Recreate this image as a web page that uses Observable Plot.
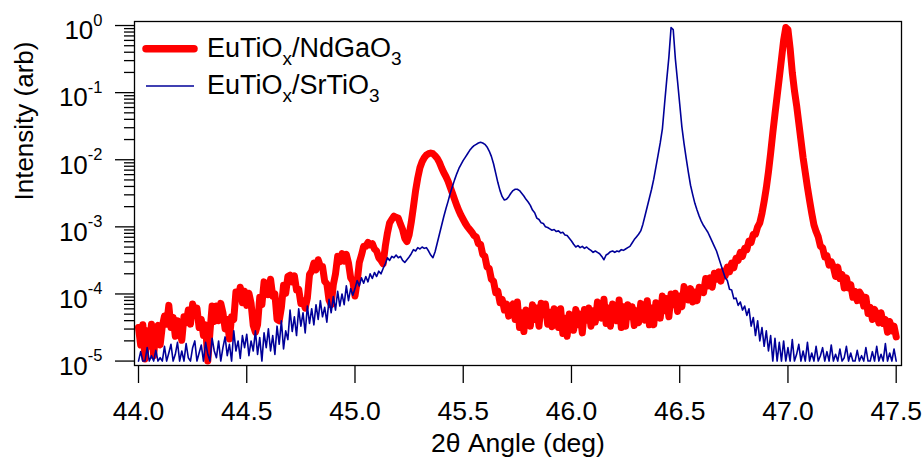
<!DOCTYPE html>
<html><head><meta charset="utf-8">
<script src="https://cdn.jsdelivr.net/npm/d3@7"></script>
<script src="https://cdn.jsdelivr.net/npm/@observablehq/plot@0.6"></script>
<style>
html,body{margin:0;padding:0;background:#fff;}
#chart{width:924px;height:458px;}
</style></head><body><div id="chart"></div>
<script>
// 2θ scan: 44.00° to 47.50°, step 0.01°
const scanStart = 44.0, scanStep = 0.01;

// log10(intensity, arb), EuTiOx/NdGaO3, one value per scan point (rows of 0.1°)
const ndgaoLog10 = [
-4.50,-4.76,-4.46,-4.97,-4.55,-4.78,-4.45,-4.92,-4.52,-4.47,
-4.76,-4.48,-4.33,-4.45,-4.17,-4.50,-4.35,-4.63,-4.40,-4.53,
-4.69,-4.34,-4.43,-4.24,-4.45,-4.15,-4.31,-4.21,-4.50,-4.38,
-4.62,-4.46,-5.00,-4.57,-4.18,-4.41,-4.18,-4.40,-4.14,-4.28,
-4.52,-4.38,-4.67,-4.34,-4.38,-3.97,-4.06,-3.90,-4.13,-3.96,
-4.17,-3.99,-4.14,-4.47,-4.57,-4.46,-4.05,-4.16,-3.82,-3.87,
-4.01,-3.78,-4.03,-4.00,-4.38,-4.40,-4.20,-3.87,-3.99,-3.74,
-3.72,-3.82,-3.73,-3.94,-3.93,-4.14,-4.10,-4.21,-4.06,-3.71,
-3.66,-3.54,-3.64,-3.49,-3.59,-3.59,-3.81,-3.85,-4.09,-4.16,
-3.86,-3.70,-3.44,-3.52,-3.40,-3.51,-3.41,-3.54,-3.76,-3.81,
-4.03,-3.82,-3.53,-3.42,-3.29,-3.29,-3.23,-3.27,-3.25,-3.33,
-3.36,-3.46,-3.50,-3.55,-3.29,-3.09,-2.94,-2.89,-2.84,-2.86,
-2.87,-2.96,-3.04,-3.17,-3.22,-3.12,-2.93,-2.70,-2.46,-2.27,
-2.12,-2.03,-1.97,-1.93,-1.91,-1.90,-1.91,-1.94,-1.98,-2.04,
-2.12,-2.19,-2.25,-2.32,-2.41,-2.50,-2.59,-2.68,-2.76,-2.83,
-2.89,-2.95,-3.00,-3.04,-3.08,-3.13,-3.15,-3.25,-3.26,-3.41,
-3.44,-3.60,-3.62,-3.78,-3.81,-3.98,-3.96,-4.13,-4.08,-4.24,
-4.15,-4.33,-4.21,-4.15,-4.38,-4.12,-4.50,-4.28,-4.56,-4.24,
-4.32,-4.48,-4.16,-4.38,-4.21,-4.48,-4.14,-4.31,-4.15,-4.45,
-4.27,-4.49,-4.22,-4.27,-4.50,-4.22,-4.59,-4.36,-4.63,-4.30,
-4.38,-4.54,-4.23,-4.46,-4.30,-4.58,-4.23,-4.39,-4.21,-4.48,
-4.25,-4.42,-4.12,-4.15,-4.36,-4.08,-4.44,-4.21,-4.48,-4.15,
-4.23,-4.40,-4.09,-4.50,-4.19,-4.48,-4.16,-4.34,-4.19,-4.47,
-4.25,-4.43,-4.14,-4.18,-4.39,-4.10,-4.46,-4.21,-4.46,-4.13,
-4.20,-4.36,-4.03,-4.25,-4.07,-4.34,-4.00,-4.16,-3.99,-4.26,
-4.03,-4.19,-3.89,-3.98,-4.09,-3.92,-4.12,-3.97,-4.10,-3.90,
-3.92,-3.98,-3.77,-3.88,-3.76,-3.90,-3.69,-3.78,-3.67,-3.81,
-3.66,-3.73,-3.60,-3.67,-3.54,-3.61,-3.47,-3.50,-3.38,-3.44,
-3.32,-3.34,-3.21,-3.23,-3.11,-3.11,-3.00,-2.94,-2.80,-2.62,
-2.42,-2.18,-1.90,-1.60,-1.32,-1.05,-0.78,-0.50,-0.22,-0.03,
-0.06,-0.34,-0.70,-0.97,-1.19,-1.45,-1.71,-1.97,-2.19,-2.41,
-2.61,-2.80,-2.97,-3.07,-3.15,-3.29,-3.31,-3.45,-3.43,-3.57,
-3.52,-3.60,-3.74,-3.60,-3.77,-3.71,-3.91,-3.76,-3.91,-3.86,
-4.05,-3.96,-4.10,-3.97,-4.02,-4.18,-4.05,-4.29,-4.20,-4.38,
-4.23,-4.30,-4.43,-4.28,-4.44,-4.38,-4.57,-4.41,-4.55,-4.48,
-4.64
];

// log10(intensity, arb), EuTiOx/SrTiO3
const srtioLog10 = [
-5.00,-4.86,-5.00,-5.00,-4.80,-5.00,-4.92,-5.00,-4.84,-5.00,
-4.95,-5.00,-4.78,-5.00,-4.88,-4.75,-5.00,-4.90,-4.72,-5.00,
-4.85,-5.00,-4.74,-4.95,-5.00,-4.80,-4.70,-5.00,-4.88,-4.76,
-5.00,-4.72,-4.90,-5.00,-4.66,-4.85,-4.95,-4.70,-5.00,-4.80,
-4.64,-4.92,-4.75,-5.00,-4.55,-4.85,-4.70,-4.96,-4.62,-4.80,
-4.60,-4.92,-4.70,-4.85,-4.55,-4.90,-4.65,-5.00,-4.58,-4.80,
-4.52,-4.85,-4.62,-4.90,-4.48,-4.75,-4.40,-4.82,-4.55,-4.68,
-4.24,-4.56,-4.34,-4.62,-4.22,-4.48,-4.28,-4.58,-4.18,-4.44,
-4.22,-4.46,-4.16,-4.38,-4.10,-4.34,-4.20,-4.42,-4.08,-4.28,
-4.04,-4.24,-3.96,-4.18,-4.00,-4.16,-3.88,-4.10,-3.92,-4.02,
-3.92,-3.80,-3.88,-3.76,-3.84,-3.74,-3.82,-3.70,-3.77,-3.68,
-3.74,-3.66,-3.70,-3.62,-3.55,-3.46,-3.50,-3.44,-3.46,-3.42,
-3.46,-3.44,-3.50,-3.53,-3.49,-3.45,-3.40,-3.34,-3.36,-3.31,
-3.33,-3.30,-3.32,-3.31,-3.36,-3.42,-3.46,-3.37,-3.24,-3.11,
-2.98,-2.85,-2.73,-2.62,-2.50,-2.40,-2.30,-2.21,-2.13,-2.07,
-2.01,-1.96,-1.91,-1.86,-1.82,-1.79,-1.77,-1.75,-1.74,-1.75,
-1.77,-1.81,-1.87,-1.95,-2.06,-2.20,-2.34,-2.46,-2.55,-2.60,
-2.59,-2.55,-2.50,-2.46,-2.44,-2.44,-2.46,-2.50,-2.54,-2.59,
-2.63,-2.68,-2.75,-2.79,-2.87,-2.89,-2.94,-2.95,-3.00,-3.01,
-3.03,-3.05,-3.04,-3.07,-3.06,-3.09,-3.08,-3.12,-3.13,-3.17,
-3.21,-3.26,-3.30,-3.28,-3.31,-3.29,-3.32,-3.30,-3.33,-3.35,
-3.38,-3.36,-3.38,-3.40,-3.44,-3.49,-3.42,-3.40,-3.37,-3.36,
-3.38,-3.36,-3.37,-3.34,-3.35,-3.33,-3.31,-3.29,-3.24,-3.19,
-3.15,-3.11,-3.06,-2.96,-2.83,-2.70,-2.57,-2.44,-2.29,-2.11,
-1.93,-1.75,-1.54,-1.17,-0.81,-0.47,-0.03,-0.06,-0.50,-0.83,
-1.17,-1.51,-1.76,-1.98,-2.19,-2.38,-2.52,-2.65,-2.75,-2.84,
-2.92,-2.98,-3.03,-3.08,-3.15,-3.22,-3.29,-3.36,-3.46,-3.56,
-3.66,-3.76,-3.80,-3.93,-3.94,-4.07,-4.06,-4.17,-4.12,-4.24,
-4.18,-4.32,-4.22,-4.48,-4.35,-4.62,-4.40,-4.70,-4.50,-4.78,
-4.55,-4.85,-4.62,-5.00,-4.66,-5.00,-4.72,-5.00,-4.70,-5.00,
-4.80,-5.00,-4.68,-5.00,-4.90,-4.75,-5.00,-4.85,-5.00,-4.72,
-5.00,-4.88,-5.00,-4.78,-5.00,-4.92,-4.80,-5.00,-4.86,-5.00,
-4.76,-5.00,-4.90,-5.00,-4.82,-5.00,-4.95,-4.78,-5.00,-4.88,
-5.00,-5.00,-4.84,-5.00,-4.92,-5.00,-4.80,-5.00,-5.00,-4.86,
-5.00,-4.78,-5.00,-4.90,-5.00,-4.74,-5.00,-4.88,-5.00,-4.82,
-5.00
];

const xTicks = [44.0, 44.5, 45.0, 45.5, 46.0, 46.5, 47.0, 47.5];
const yDecades = [1e-5, 1e-4, 1e-3, 1e-2, 1e-1, 1];
const yMinor = [
 2e-5,3e-5,4e-5,5e-5,6e-5,7e-5,8e-5,9e-5,
 2e-4,3e-4,4e-4,5e-4,6e-4,7e-4,8e-4,9e-4,
 2e-3,3e-3,4e-3,5e-3,6e-3,7e-3,8e-3,9e-3,
 2e-2,3e-2,4e-2,5e-2,6e-2,7e-2,8e-2,9e-2,
 2e-1,3e-1,4e-1,5e-1,6e-1,7e-1,8e-1,9e-1
];
const xLabel = "2θ Angle (deg)";
const yLabel = "Intensity (arb)";
const legendParts = [
  [["EuTiO", false], ["x", true], ["/NdGaO", false], ["3", true]],
  [["EuTiO", false], ["x", true], ["/SrTiO", false], ["3", true]]
];
const seriesColors = ["#ff0000", "#000099"];

const toRows = (logs) => logs.map((v, i) => ({
  angle: +(scanStart + i * scanStep).toFixed(2),
  intensity: Math.pow(10, v)
}));
const ndgao = toRows(ndgaoLog10);
const srtio = toRows(srtioLog10);

const FONT = "'Liberation Sans', Arial, Helvetica, sans-serif";

const svg = Plot.plot({
  width: 924, height: 458,
  marginLeft: 134, marginRight: 23, marginTop: 21, marginBottom: 93,
  style: {fontFamily: FONT, fontSize: "26px", background: "white", color: "black"},
  x: {domain: [43.9815, 47.5245], label: null},
  y: {type: "log", domain: [Math.pow(10, -5.066), Math.pow(10, 0.06)], label: null},
  marks: [
    Plot.axisY({ticks: yMinor, tickSize: 10, tickFormat: () => "", strokeWidth: 1.3, label: null}),
    Plot.axisY({ticks: yDecades, tickSize: 19, tickPadding: 13, fontSize: 26, strokeWidth: 1.3, label: null,
      tickFormat: d => String(Math.round(Math.log10(d)))}),
    Plot.axisX({ticks: xTicks, tickSize: 18, tickPadding: 18, fontSize: 26.5, strokeWidth: 1.3, label: null,
      tickFormat: d3.format(".1f")}),
    Plot.line(ndgao, {x: "angle", y: "intensity", stroke: seriesColors[0], strokeWidth: 7,
      strokeLinejoin: "round", strokeLinecap: "round", clip: true}),
    Plot.line(srtio, {x: "angle", y: "intensity", stroke: seriesColors[1], strokeWidth: 1.6, clip: true}),
    Plot.frame({stroke: "black", strokeWidth: 1.3}),
    Plot.text([xLabel], {text: d => d, frameAnchor: "bottom", lineAnchor: "bottom", dy: 86, fontSize: 26.5}),
    Plot.text([yLabel], {text: d => d, frameAnchor: "left", lineAnchor: "middle", dx: -110, dy: 7, rotate: -90, fontSize: 26})
  ]
});

// superscript exponents on decade labels: 10^n
const NS = "http://www.w3.org/2000/svg";
svg.querySelectorAll('g[aria-label="y-axis tick label"] text').forEach(t => {
  const e = t.textContent;
  if (!e) return;
  t.textContent = "";
  t.removeAttribute("dy");
  t.setAttribute("y", "13.8");
  const base = document.createElementNS(NS, "tspan");
  base.textContent = "10";
  const sup = document.createElementNS(NS, "tspan");
  sup.setAttribute("dy", "-13.6");
  sup.setAttribute("font-size", "16.5");
  sup.textContent = e;
  t.appendChild(base); t.appendChild(sup);
});

// legend (top-left, inside frame)
const lg = document.createElementNS(NS, "g");
lg.setAttribute("font-family", FONT);
lg.setAttribute("font-size", "27");
lg.setAttribute("text-anchor", "start");
const lineY = [48.7, 86];
const textY = [57, 93.5];
legendParts.forEach((parts, k) => {
  const ln = document.createElementNS(NS, "line");
  ln.setAttribute("x1", 146); ln.setAttribute("x2", 194);
  ln.setAttribute("y1", lineY[k]); ln.setAttribute("y2", lineY[k]);
  ln.setAttribute("stroke", seriesColors[k]);
  ln.setAttribute("stroke-width", k === 0 ? 7.5 : 1.3);
  ln.setAttribute("stroke-linecap", k === 0 ? "round" : "butt");
  lg.appendChild(ln);
  const tx = document.createElementNS(NS, "text");
  tx.setAttribute("x", 207); tx.setAttribute("y", textY[k]);
  tx.setAttribute("fill", "black");
  tx.setAttribute("text-anchor", "start");
  let shifted = false;
  parts.forEach(([s, sub]) => {
    const sp = document.createElementNS(NS, "tspan");
    sp.textContent = s;
    if (sub) { sp.setAttribute("font-size", "19"); sp.setAttribute("dy", "8"); shifted = true; }
    else if (shifted) { sp.setAttribute("dy", "-8"); shifted = false; }
    tx.appendChild(sp);
  });
  lg.appendChild(tx);
});
svg.appendChild(lg);

document.getElementById("chart").appendChild(svg);
</script>
</body></html>
